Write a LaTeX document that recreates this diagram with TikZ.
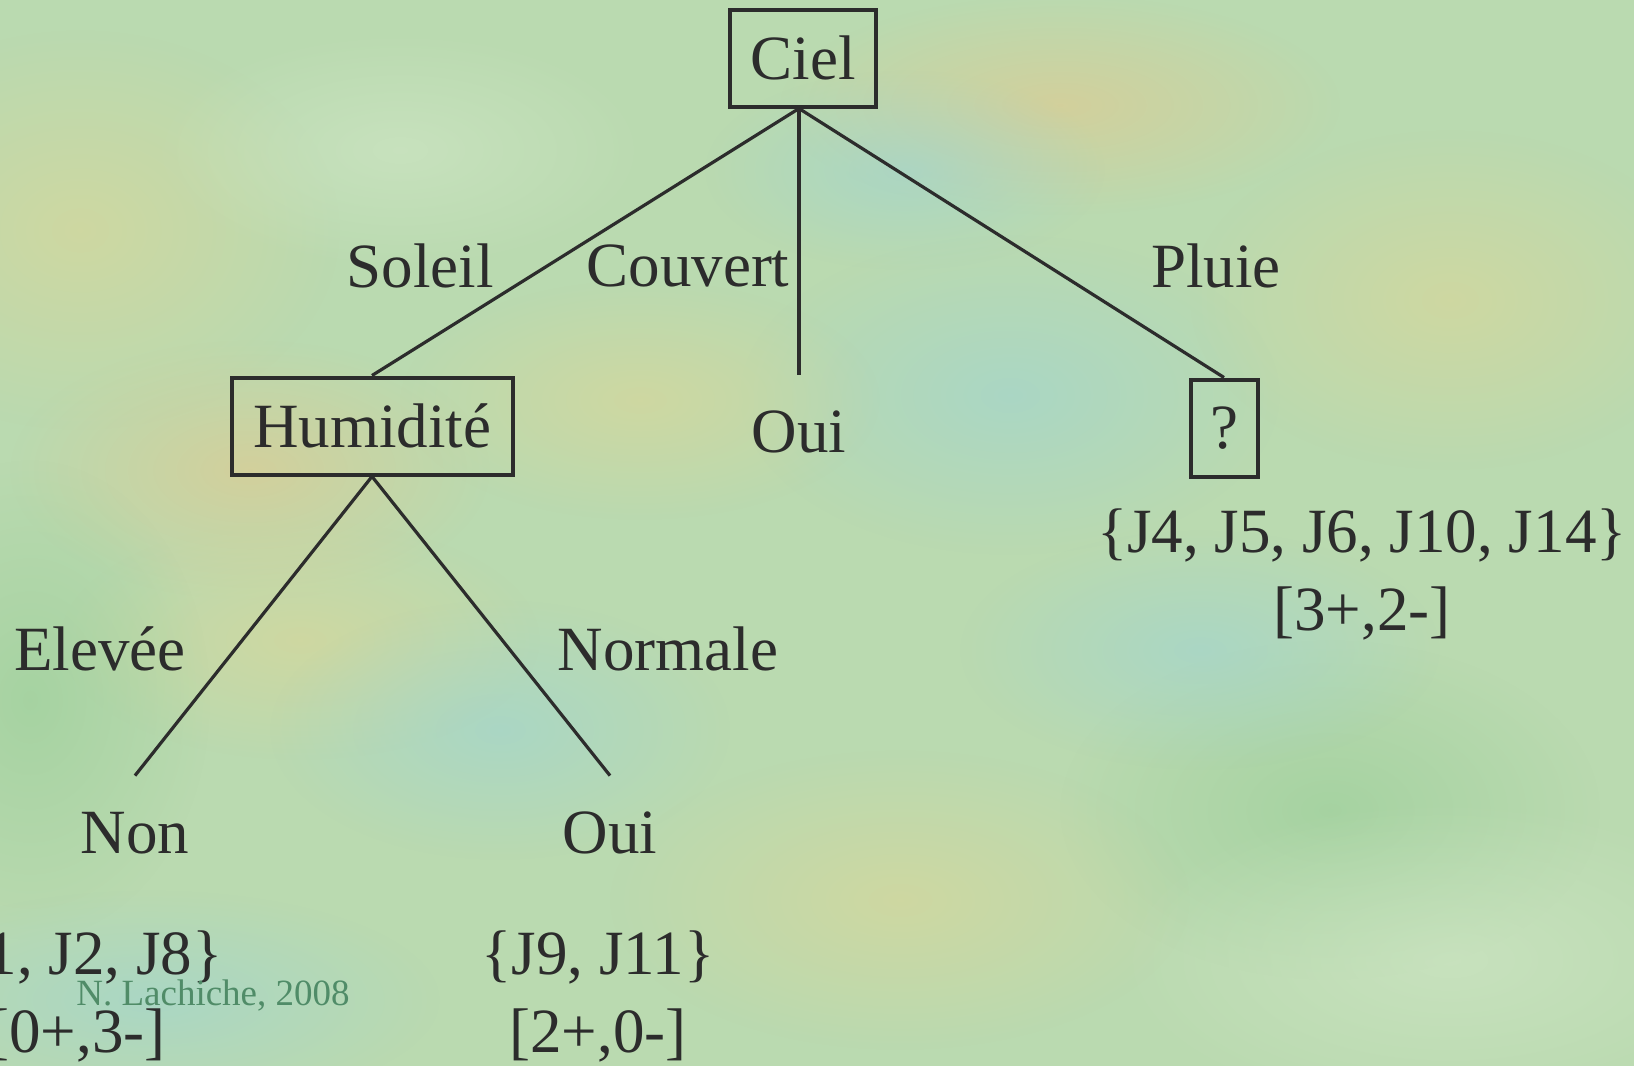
\documentclass[tikz,border=0pt]{standalone}
\usepackage{fontspec}
\setmainfont{Liberation Serif}
\usetikzlibrary{fadings}
\definecolor{bgbase}{RGB}{186,218,176}
\definecolor{ink}{RGB}{44,44,44}
\definecolor{markc}{RGB}{80,140,104}
\definecolor{blobY}{RGB}{222,214,150}
\definecolor{blobO}{RGB}{230,200,140}
\definecolor{blobB}{RGB}{158,212,212}
\definecolor{blobG}{RGB}{150,205,150}
\definecolor{blobL}{RGB}{210,232,200}
\tikzfading[name=softblob, inner color=transparent!20, outer color=transparent!100]
\tikzset{
  lbl/.style={font=\fontsize{31.5}{38}\selectfont, text=ink, inner sep=0pt},
  testbox/.style={lbl, draw=ink, line width=2pt, minimum height=48.5pt},
  leaf/.style={lbl, minimum height=57pt},
  edge/.style={draw=ink, line width=1.6pt},
  blob/.style={path fading=softblob, opacity=0.7},
}
\begin{document}
\begin{tikzpicture}[x=0.5pt, y=-0.5pt]
% background
\fill[bgbase] (0,0) rectangle (1634,1066);
\useasboundingbox (0,0) rectangle (1634,1066);
\fill[blobY, blob] (80,230) ellipse (260 and 200);
\fill[blobO, blob] (1060,105) ellipse (280 and 110);
\fill[blobB, blob] (905,170) ellipse (200 and 100);
\fill[blobB, blob] (1010,395) ellipse (270 and 160);
\fill[blobO, blob] (250,470) ellipse (240 and 130);
\fill[blobY, blob] (640,400) ellipse (240 and 120);
\fill[blobY, blob] (300,640) ellipse (240 and 120);
\fill[blobB, blob] (500,730) ellipse (230 and 130);
\fill[blobG, blob] (1330,810) ellipse (270 and 170);
\fill[blobG, blob] (30,700) ellipse (180 and 240);
\fill[blobL, blob] (1450,960) ellipse (340 and 160);
\fill[blobY, blob] (1450,300) ellipse (260 and 170);
\fill[blobB, blob] (1200,650) ellipse (240 and 120);
\fill[blobY, blob] (900,900) ellipse (290 and 150);
\fill[blobB, blob] (150,1000) ellipse (290 and 110);
\fill[blobL, blob] (400,150) ellipse (250 and 120);

% tests
\node[testbox, minimum width=73pt] (ciel) at (803,58) {Ciel};
\node[testbox, minimum width=140.5pt] (hum) at (372,426) {Humidité};
\node[testbox, minimum width=33.5pt] (q) at (1224,428) {?};

% leaves
\node[leaf] (oui1) at (799,432) {Oui};
\node[leaf] (non) at (135,833) {Non};
\node[leaf] (oui2) at (610,833) {Oui};

% branches
\draw[edge] ([xshift=-2pt]ciel.south) -- (hum.north);
\draw[edge] ([xshift=-2pt]ciel.south) -- (oui1.north);
\draw[edge] ([xshift=-2pt]ciel.south) -- (q.north);
\draw[edge] (hum.south) -- (non.north);
\draw[edge] (hum.south) -- (oui2.north);

% branch labels
\node[lbl] (soleil) at (420,266) {Soleil};
\node[lbl] (couvert) at (688,266) {Couvert};
\node[lbl] (pluie) at (1216,266) {Pluie};
\node[lbl] (elevee) at (100,649) {Elevée};
\node[lbl] (normale) at (668,649) {Normale};

% example sets
\node[lbl] (setq) at (1362,535) {\{J4, J5, J6, J10, J14\}};
\node[lbl] (cntq) at (1362,613) {[3+,2-]};
\node[lbl] (setnon) at (77,957) {\{J1, J2, J8\}};
\node[lbl] (cntnon) at (77,1035) {[0+,3-]};
\node[lbl] (setoui) at (598,957) {\{J9, J11\}};
\node[lbl] (cntoui) at (598,1035) {[2+,0-]};

% credit
\node[font=\fontsize{18.5}{22}\selectfont, text=markc, inner sep=0pt] (credit) at (213,995) {N. Lachiche, 2008};
\end{tikzpicture}
\end{document}
